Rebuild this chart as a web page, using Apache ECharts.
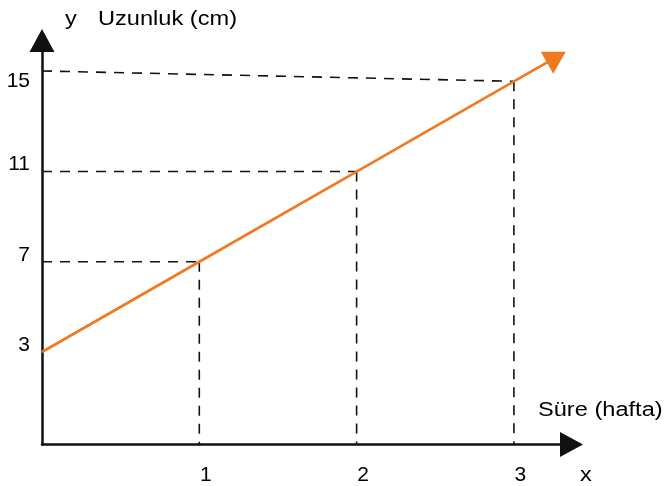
<!DOCTYPE html>
<html>
<head>
<meta charset="utf-8">
<script src="https://cdn.jsdelivr.net/npm/echarts@6/dist/echarts.min.js"></script>
<style>
  html, body { margin: 0; padding: 0; background: #fff; }
  #chart { width: 666px; height: 486px; }
</style>
</head>
<body>
<div id="chart"></div>
<script>
// Plant length over time: 3 cm at the start, growing 4 cm each week
const lineX = [0, 1, 2, 3, 3.22];
const lineY = [3, 7, 11, 15, 15.87];
const weeks = [1, 2, 3];
const lengths = [7, 11, 15];
const guideStartY = [7, 11, 15.46];   // where each horizontal guide meets the y axis
const xTicks = [1, 2, 3];
const yTicks = [3, 7, 11, 15];
const arrowHead = [3.25, 15.82];
const xRange = [0, 3.293];
const yRange = [-1.1, 16.3];

const ORANGE = '#f07a22';
const INK = '#111111';
const TEXT = '#000000';
const FONT = '"Liberation Sans", Arial, sans-serif';

const chart = echarts.init(document.getElementById('chart'), null, { renderer: 'canvas' });

const guideStyle = { color: INK, width: 1.6, type: [10, 8] };
const guides = [];
weeks.forEach((w, i) => {
  guides.push({
    type: 'line', silent: true, symbol: 'none', z: 2,
    lineStyle: guideStyle,
    data: [[0, guideStartY[i]], [w, lengths[i]]]
  });
  guides.push({
    type: 'line', silent: true, symbol: 'none', z: 2,
    lineStyle: guideStyle,
    data: [[w, lengths[i]], [w, yRange[0]]]
  });
});

const textBase = { fontFamily: FONT, fontSize: 20, fill: TEXT };

chart.setOption({
  animation: false,
  grid: { left: 42, top: 52, right: 106, bottom: 41.5, containLabel: false },
  xAxis: {
    type: 'value', min: xRange[0], max: xRange[1],
    splitLine: { show: false },
    axisTick: { show: false },
    axisLine: {
      onZero: false,
      lineStyle: { color: INK, width: 2.5 },
      symbol: ['none', 'triangle'],
      symbolSize: [25, 23],
      symbolOffset: [0, 11.5]
    },
    axisLabel: {
      customValues: xTicks,
      color: TEXT, fontFamily: FONT, fontSize: 21,
      margin: 20,
      padding: [0, 0, 0, 13]
    }
  },
  yAxis: {
    type: 'value', min: yRange[0], max: yRange[1],
    splitLine: { show: false },
    axisTick: { show: false },
    axisLine: {
      onZero: false,
      lineStyle: { color: INK, width: 2.5 },
      symbol: ['none', 'triangle'],
      symbolSize: [25, 23],
      symbolOffset: [0, 11.5]
    },
    axisLabel: {
      customValues: yTicks,
      margin: 12,
      formatter: v => (v === 15 ? '{t|' + v + '}' : '{n|' + v + '}'),
      rich: {
        n: { color: TEXT, fontFamily: FONT, fontSize: 21, padding: [0, 0, 14, 0] },
        t: { color: TEXT, fontFamily: FONT, fontSize: 21, padding: [0, 0, 1, 0] }
      }
    }
  },
  series: [
    ...guides,
    {
      name: 'Uzunluk', type: 'line', symbol: 'none', z: 3,
      lineStyle: { color: ORANGE, width: 2.7 },
      data: lineX.map((x, i) => [x, lineY[i]])
    },
    {
      type: 'scatter', z: 4, silent: true,
      symbol: 'triangle', symbolRotate: 180, symbolSize: [25, 22],
      itemStyle: { color: ORANGE, opacity: 1 },
      data: [arrowHead]
    }
  ],
  graphic: [
    { type: 'text', x: 65, y: 19, scaleX: 1.18,
      style: Object.assign({ text: 'y', textAlign: 'left', textVerticalAlign: 'middle' }, textBase) },
    { type: 'text', x: 98, y: 19, scaleX: 1.18,
      style: Object.assign({ text: 'Uzunluk (cm)', textAlign: 'left', textVerticalAlign: 'middle' }, textBase) },
    { type: 'text', x: 538, y: 410, scaleX: 1.18,
      style: Object.assign({ text: 'Süre (hafta)', textAlign: 'left', textVerticalAlign: 'middle' }, textBase) },
    { type: 'text', x: 580, y: 475, scaleX: 1.18,
      style: Object.assign({ text: 'x', textAlign: 'left', textVerticalAlign: 'middle' }, textBase) }
  ]
});
</script>
</body>
</html>
